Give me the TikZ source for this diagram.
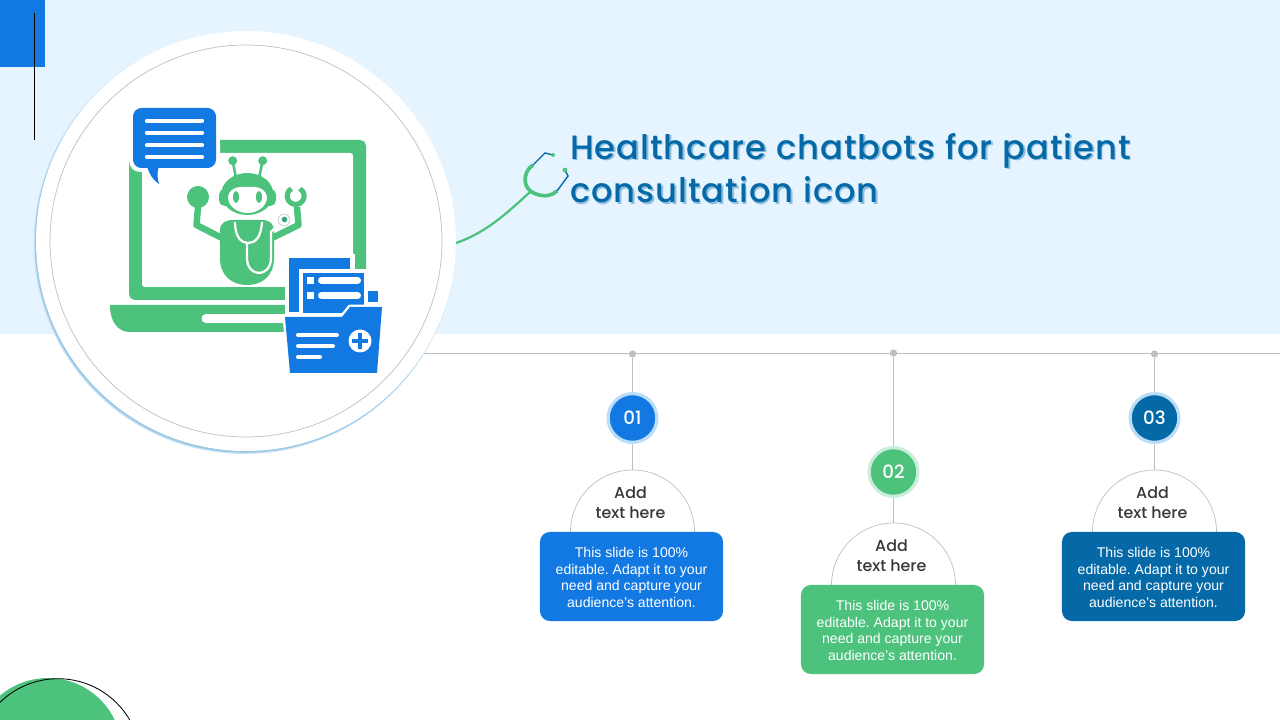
\documentclass[tikz,border=0pt]{standalone}
\usepackage{fontspec}
\setmainfont{Liberation Sans}
\newfontfamily\titlefont[LetterSpace=2.8]{Poppins Medium}
\newfontfamily\addfont{Poppins Medium}
\usetikzlibrary{positioning}
\definecolor{band}{HTML}{E5F4FE}
\definecolor{mblue}{HTML}{1279E3}
\definecolor{mgreen}{HTML}{4CC27D}
\definecolor{mdark}{HTML}{0569A8}
\definecolor{mgrey}{HTML}{BFBFBF}
\definecolor{halo}{HTML}{BBDDF5}
\newcommand{\bodytext}{\rule{0pt}{8.6pt}This slide is 100\%\\editable. Adapt it to your\\need and capture your\\audience's attention.}
\tikzset{
	numc/.style={circle, minimum size=1.22cm, inner sep=0pt, line width=2.3pt, text=white, font=\addfont\fontsize{13}{15}\selectfont},
	dotc/.style={circle, fill=mgrey, minimum size=0.18cm, inner sep=0pt},
	addt/.style={align=center, text=black!78, font=\addfont\fontsize{11.3}{14.2}\selectfont},
	infob/.style={rounded corners=7pt, minimum width=4.575cm, minimum height=2.225cm, inner sep=0pt, align=center, text=white, font=\fontsize{10}{11.9}\selectfont},
	titlet/.style={anchor=base west, inner sep=0pt, align=left, font=\titlefont\fontsize{24}{31.2}\selectfont},
	greyl/.style={draw=mgrey, line width=0.7pt},
	wbar/.style={draw=white, line width=3pt, line cap=round},
	fbar/.style={draw=white, line width=2.8pt, line cap=round}
}
\begin{document}
\frenchspacing
\begin{tikzpicture}[x=0.025cm, y=-0.025cm]
	\useasboundingbox (0,0) rectangle (1280,720);
	\clip (0,0) rectangle (1280,720);
	\fill[band] (0,0) rectangle (1280,334);
	\fill[mblue] (0,0) rectangle (45,67);
	\draw[black, line width=0.6pt] (34,13) -- (34,140);
	\fill[mgreen] (48,752) circle (74);
	\draw[black, line width=0.6pt] (58,761.7) circle (83);

	% stethoscope
	\coordinate (s0) at (456,243);
	\coordinate (s1) at (530,192);
	\draw[mgreen, line width=1.6pt] (s0) .. controls (485,233) and (505,215) .. (s1);
	\draw[mgreen, line width=2.6pt] (533,165) .. controls (522,172) and (522,190) .. (536,194) .. controls (544,197) and (552,196) .. (557,191);
	\draw[mdark, line width=1pt] (533,165) -- (545,153) -- (553,155);
	\draw[mdark, line width=1pt] (557,191) -- (568,176) -- (565,170);
	\fill[mgreen] (553,155) circle (2);
	\fill[mgreen] (565,170) circle (2.4);

	\draw[greyl] (423,353) -- (1280,353);
	\fill[halo!60!band] (244.5,243) circle (211);
	\fill[halo!70!mdark!80!white] (245,242.5) circle (210.3);
	\fill[white] (246,241) circle (210);
	\draw[mgrey, line width=0.5pt] (246,241) circle (196);

	% laptop
	\fill[mgreen, rounded corners=4pt] (129,140) rectangle (366,300);
	\fill[white, rounded corners=2pt] (142,153) rectangle (353,287);
	\fill[mgreen] (110,305) -- (290,305) -- (290,332) -- (130,332) .. controls (118,332) and (110,322) .. (110,305) -- cycle;
	\draw[white, line width=6.4pt, line cap=round] (206,318.5) -- (290,318.5);

	% chat bubble
	\fill[white, rounded corners=8pt] (129,104) rectangle (220,172);
	\fill[white] (143,168) -- (161,190) -- (163,168) -- cycle;
	\fill[mblue, rounded corners=6pt] (133,108) rectangle (216,168);
	\fill[mblue] (147,166) .. controls (149,174) and (153,180) .. (159,184) .. controls (157,178) and (157,172) .. (159,166) -- cycle;
	\draw[wbar] (147,120.7) -- (202,120.7);
	\draw[wbar] (147,132.7) -- (202,132.7);
	\draw[wbar] (147,145) -- (202,145);
	\draw[wbar] (147,157) -- (202,157);

	% robot
	\draw[mgreen, line width=1.8pt] (232.7,160.7) -- (236,178);
	\draw[mgreen, line width=1.8pt] (262.7,160.7) -- (259,178);
	\fill[mgreen] (232.7,160.7) circle (4.5);
	\fill[mgreen] (262.7,160.7) circle (4.5);
	\fill[mgreen] (247.3,194) ellipse (26 and 21);
	\fill[mgreen, rounded corners=4pt] (219,189) rectangle (276,206);
	\fill[white] (228,197) .. controls (228,192) and (234,187) .. (240,187) -- (255,187) .. controls (261,187) and (267,192) .. (267,197) .. controls (267,206) and (258,213) .. (247.5,213) .. controls (237,213) and (228,206) .. (228,197) -- cycle;
	\fill[mgreen] (236,197) ellipse (3 and 6);
	\fill[mgreen] (259,197) ellipse (3 and 6);
	\fill[mgreen] (220,231) .. controls (220,222) and (226,220) .. (234,220) -- (262,220) .. controls (270,220) and (274,224) .. (274,231) -- (274,258) .. controls (274,276) and (262,285) .. (247,285) .. controls (232,285) and (220,276) .. (220,258) -- cycle;
	\draw[mgreen, line width=4.6pt, line join=round] (198,207) -- (196.5,225) -- (222,238);
	\draw[mgreen, line width=4.6pt, line join=round] (297,207) -- (298.5,225) -- (272,238);
	\fill[mgreen] (198,197) circle (11);
	\draw[mgreen, line width=3.6pt] (291.4,188.6) arc[start angle=240, end angle=-60, radius=8.5];
	\draw[white, line width=1.6pt] (235,222) .. controls (235,238) and (242,243) .. (248,243) .. controls (255,243) and (261,238) .. (262,222);
	\draw[white, line width=1.6pt] (247,243) -- (247,258) .. controls (247,278) and (271,278) .. (271,258) -- (271,232) -- (279,224);
	\draw[mgrey, fill=white, line width=0.4pt] (284,220) circle (6);
	\fill[mgreen!70!mdark] (284.5,219.5) circle (2.8);

	% folder
	\fill[white] (285,254) rectangle (355,316);
	\fill[mblue] (289,258) rectangle (350,312);
	\fill[white] (299,269) rectangle (367,316);
	\fill[mblue] (303,273) rectangle (364,313);
	\fill[white] (307,277) rectangle (314,284);
	\fill[white] (307,292) rectangle (314,299);
	\draw[white, line width=5pt, line cap=round] (321.5,280.3) -- (357.5,280.3);
	\draw[white, line width=5pt, line cap=round] (321.5,295.5) -- (357.5,295.5);
	\fill[mblue] (368,291) rectangle (378,302);
	\draw[white, line width=3.4pt, fill=white, line join=round] (285,317) -- (342,317) -- (350,307) -- (382,307) -- (377,373) -- (290,373) -- cycle;
	\fill[mblue] (285,317) -- (342,317) -- (350,307) -- (382,307) -- (377,373) -- (290,373) -- cycle;
	\draw[fbar] (298,335) -- (337,335);
	\draw[fbar] (298,346) -- (333,346);
	\draw[fbar] (298,357) -- (320,357);
	\fill[white] (360,341) circle (11.5);
	\draw[mblue, line width=2.4pt] (352,341) -- (368,341);
	\draw[mblue, line width=2.4pt] (360,333) -- (360,349);

	% title
	\node[titlet, text=mdark!38!band] (tshadow) at (571.5,204.5) {Healthcare chatbots for patient\\consultation icon};
	\node[titlet, text=mdark] (title) at (570,203) {Healthcare chatbots for patient\\consultation icon};

	% first column
	\node[dotc] (d1) at (632.5,354) {};
	\node[numc, draw=halo, fill=mblue] (c1) at (632.5,418) {01};
	\coordinate (a1) at (632.5,470);
	\draw[greyl] (d1) -- (c1);
	\draw[greyl] (c1) -- (a1);
	\draw[mgrey, line width=0.5pt] (570.5,532) arc[start angle=180, end angle=360, radius=62];
	\node[addt] (h1) at (630.5,503) {Add\\text here};
	\node[infob, fill=mblue] (b1) at (631.5,576.5) {\bodytext};

	% second column
	\node[dotc] (d2) at (893.5,353) {};
	\node[numc, draw=mgreen!30!white, fill=mgreen] (c2) at (893.5,472) {02};
	\coordinate (a2) at (893.5,523);
	\draw[greyl] (d2) -- (c2);
	\draw[greyl] (c2) -- (a2);
	\draw[mgrey, line width=0.5pt] (831.5,585) arc[start angle=180, end angle=360, radius=62];
	\node[addt] (h2) at (891.5,556) {Add\\text here};
	\node[infob, fill=mgreen] (b2) at (892.5,629.5) {\bodytext};

	% third column
	\node[dotc] (d3) at (1154.5,354) {};
	\node[numc, draw=halo, fill=mdark] (c3) at (1154.5,418) {03};
	\coordinate (a3) at (1154.5,470);
	\draw[greyl] (d3) -- (c3);
	\draw[greyl] (c3) -- (a3);
	\draw[mgrey, line width=0.5pt] (1092.5,532) arc[start angle=180, end angle=360, radius=62];
	\node[addt] (h3) at (1152.5,503) {Add\\text here};
	\node[infob, fill=mdark] (b3) at (1153.5,576.5) {\bodytext};
\end{tikzpicture}
\end{document}
